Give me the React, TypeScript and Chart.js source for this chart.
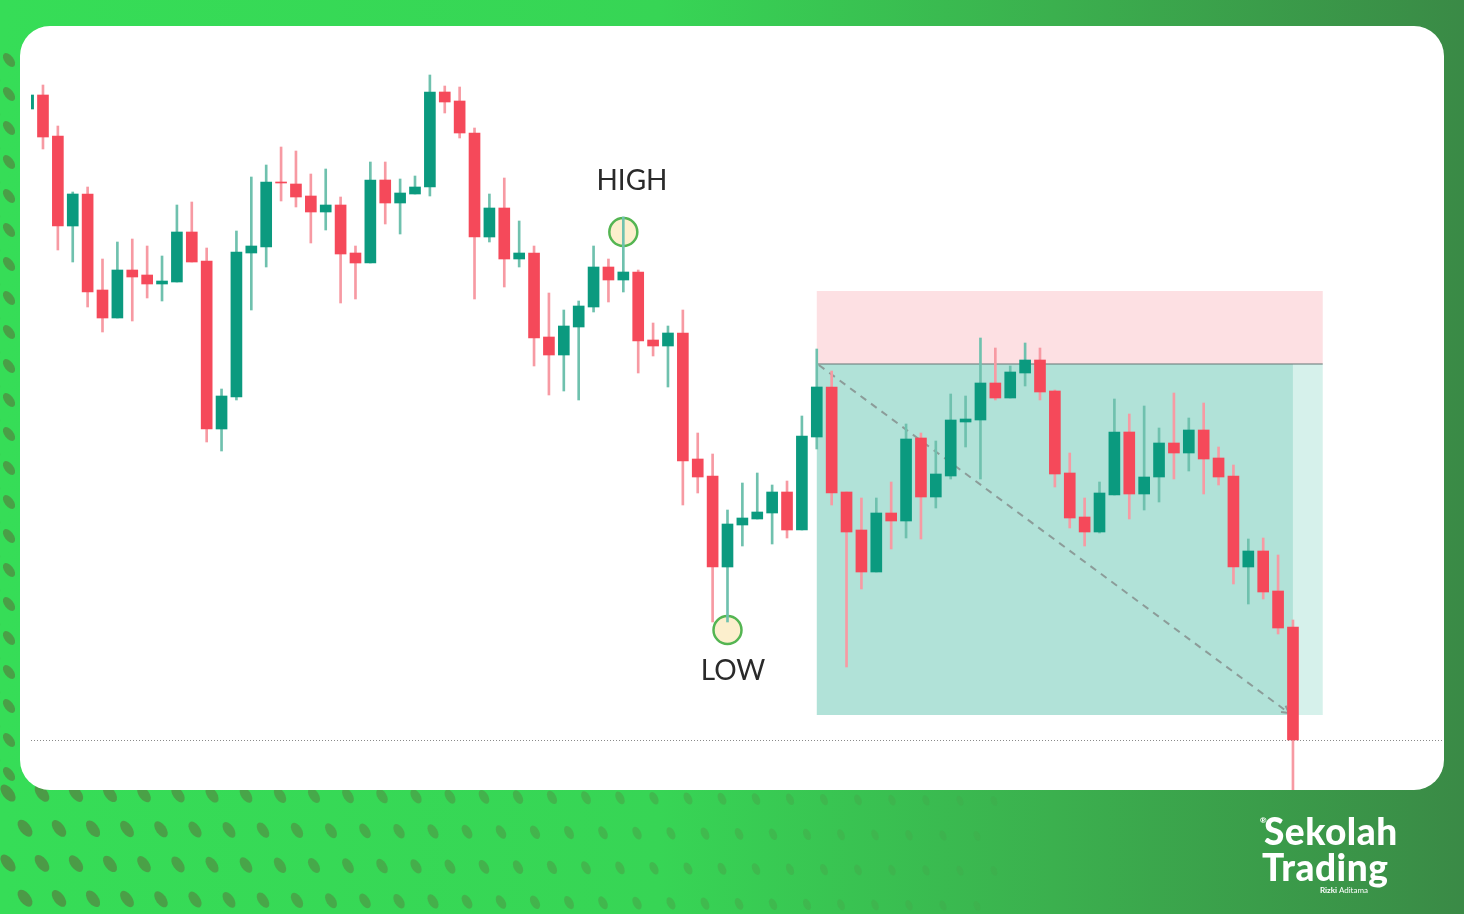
import React, { useEffect, useRef } from "react";
import { Chart, registerables } from "chart.js";
Chart.register(...registerables);

// OHLC candles (price units)
const opens = [1.0891, 1.0905, 1.0864, 1.0774, 1.0806, 1.0710, 1.0682, 1.0730, 1.0725, 1.0716,
  1.0718, 1.0768, 1.0739, 1.0571, 1.0603, 1.0747, 1.0753, 1.0818, 1.0816, 1.0804,
  1.0788, 1.0795, 1.0747, 1.0737, 1.0820, 1.0797, 1.0806, 1.0813, 1.0908, 1.0899,
  1.0867, 1.0763, 1.0792, 1.0741, 1.0747, 1.0663, 1.0645, 1.0673, 1.0693, 1.0733,
  1.0720, 1.0728, 1.0660, 1.0654, 1.0667, 1.0541, 1.0524, 1.0433, 1.0475, 1.0481,
  1.0487, 1.0508, 1.0470, 1.0563, 1.0613, 1.0508, 1.0470, 1.0428, 1.0487, 1.0479,
  1.0562, 1.0503, 1.0524, 1.0578, 1.0580, 1.0617, 1.0602, 1.0627, 1.0640, 1.0609,
  1.0527, 1.0483, 1.0468, 1.0505, 1.0568, 1.0506, 1.0523, 1.0557, 1.0547, 1.0570,
  1.0542, 1.0524, 1.0433, 1.0449, 1.0409, 1.0373];
const highs = [1.0906, 1.0915, 1.0874, 1.0808, 1.0813, 1.0741, 1.0758, 1.0761, 1.0754, 1.0744,
  1.0795, 1.0798, 1.0752, 1.0611, 1.0769, 1.0823, 1.0835, 1.0853, 1.0849, 1.0826,
  1.0831, 1.0803, 1.0754, 1.0838, 1.0838, 1.0821, 1.0824, 1.0925, 1.0914, 1.0913,
  1.0872, 1.0806, 1.0822, 1.0779, 1.0754, 1.0707, 1.0690, 1.0699, 1.0754, 1.0741,
  1.0783, 1.0730, 1.0677, 1.0674, 1.0690, 1.0567, 1.0546, 1.0490, 1.0517, 1.0527,
  1.0515, 1.0519, 1.0584, 1.0651, 1.0629, 1.0508, 1.0502, 1.0502, 1.0518, 1.0576,
  1.0567, 1.0559, 1.0606, 1.0604, 1.0662, 1.0652, 1.0634, 1.0657, 1.0652, 1.0610,
  1.0547, 1.0502, 1.0518, 1.0601, 1.0586, 1.0594, 1.0572, 1.0607, 1.0582, 1.0597,
  1.0553, 1.0535, 1.0461, 1.0462, 1.0445, 1.0380];
const lows = [1.0890, 1.0851, 1.0750, 1.0738, 1.0693, 1.0668, 1.0682, 1.0679, 1.0702, 1.0699,
  1.0718, 1.0738, 1.0558, 1.0549, 1.0600, 1.0690, 1.0733, 1.0799, 1.0793, 1.0757,
  1.0770, 1.0697, 1.0701, 1.0737, 1.0776, 1.0766, 1.0806, 1.0804, 1.0887, 1.0862,
  1.0701, 1.0758, 1.0713, 1.0733, 1.0634, 1.0605, 1.0609, 1.0600, 1.0688, 1.0698,
  1.0708, 1.0627, 1.0644, 1.0613, 1.0495, 1.0507, 1.0378, 1.0378, 1.0454, 1.0481,
  1.0456, 1.0462, 1.0470, 1.0551, 1.0495, 1.0333, 1.0411, 1.0428, 1.0451, 1.0462,
  1.0461, 1.0492, 1.0521, 1.0553, 1.0521, 1.0600, 1.0602, 1.0614, 1.0600, 1.0513,
  1.0472, 1.0454, 1.0467, 1.0505, 1.0481, 1.0490, 1.0498, 1.0521, 1.0529, 1.0506,
  1.0515, 1.0416, 1.0396, 1.0401, 1.0366, 1.0200];
const closes = [1.0905, 1.0863, 1.0774, 1.0806, 1.0708, 1.0682, 1.0730, 1.0723, 1.0716, 1.0719,
  1.0768, 1.0738, 1.0571, 1.0604, 1.0748, 1.0754, 1.0818, 1.0817, 1.0803, 1.0788,
  1.0795, 1.0746, 1.0737, 1.0820, 1.0797, 1.0807, 1.0813, 1.0908, 1.0898, 1.0867,
  1.0763, 1.0792, 1.0741, 1.0747, 1.0662, 1.0645, 1.0674, 1.0694, 1.0733, 1.0720,
  1.0728, 1.0659, 1.0654, 1.0667, 1.0539, 1.0523, 1.0433, 1.0476, 1.0482, 1.0488,
  1.0508, 1.0470, 1.0564, 1.0613, 1.0507, 1.0468, 1.0428, 1.0487, 1.0479, 1.0561,
  1.0503, 1.0526, 1.0580, 1.0581, 1.0617, 1.0602, 1.0628, 1.0640, 1.0608, 1.0526,
  1.0482, 1.0468, 1.0507, 1.0568, 1.0506, 1.0523, 1.0557, 1.0547, 1.0570, 1.0541,
  1.0523, 1.0433, 1.0449, 1.0408, 1.0372, 1.0260];

// Trade box (index/price units)
const zoneStart = 53;
const zoneDarkEnd = 85;
const zoneEnd = 87;
const stopPrice = 1.0709;
const entryPrice = 1.0636;
const targetPrice = 1.0285;
const lastPrice = 1.0260;

const marks = [
  { x: 40, y: 1.0768 },
  { x: 47, y: 1.0370 },
];
const markLabels = [
  { text: "HIGH", x: 40.58, y: 1.0819 },
  { text: "LOW", x: 47.37, y: 1.0329 },
];

const UP = "#0b9a7f";
const DOWN = "#f5495a";
const UP_WICK = "#6fc1ae";
const DOWN_WICK = "#f79aa3";

const overlayPlugin = {
  id: "tradeOverlay",
  beforeDatasetsDraw(chart: any) {
    const { ctx, chartArea } = chart;
    const xs = chart.scales.x;
    const ys = chart.scales.y;
    const x0 = xs.getPixelForValue(zoneStart);
    const xd = xs.getPixelForValue(zoneDarkEnd);
    const x1 = xs.getPixelForValue(zoneEnd);
    const yStop = ys.getPixelForValue(stopPrice);
    const yEntry = ys.getPixelForValue(entryPrice);
    const yTarget = ys.getPixelForValue(targetPrice);
    ctx.save();
    ctx.fillStyle = "#fde0e3";
    ctx.fillRect(x0, yStop, x1 - x0, yEntry - yStop);
    ctx.fillStyle = "#b1e2d8";
    ctx.fillRect(x0, yEntry, xd - x0, yTarget - yEntry);
    ctx.fillStyle = "#d6f1eb";
    ctx.fillRect(xd, yEntry, x1 - xd, yTarget - yEntry);
    ctx.strokeStyle = "rgba(110,125,125,0.55)";
    ctx.lineWidth = 2;
    ctx.beginPath();
    ctx.moveTo(x0, yEntry);
    ctx.lineTo(x1, yEntry);
    ctx.stroke();
    // dashed diagonal
    ctx.strokeStyle = "#8c9c99";
    ctx.lineWidth = 2;
    ctx.setLineDash([7, 6]);
    ctx.beginPath();
    ctx.moveTo(x0 + 2, yEntry + 1);
    ctx.lineTo(xd - 4, yTarget - 2);
    ctx.stroke();
    ctx.setLineDash([]);
    const ang = Math.atan2(yTarget - 2 - (yEntry + 1), xd - 4 - (x0 + 2));
    ctx.beginPath();
    ctx.moveTo(xd - 4, yTarget - 2);
    ctx.lineTo(xd - 4 - 8 * Math.cos(ang - 0.5), yTarget - 2 - 8 * Math.sin(ang - 0.5));
    ctx.moveTo(xd - 4, yTarget - 2);
    ctx.lineTo(xd - 4 - 8 * Math.cos(ang + 0.5), yTarget - 2 - 8 * Math.sin(ang + 0.5));
    ctx.stroke();
    // last price dotted line
    const yLast = ys.getPixelForValue(lastPrice);
    ctx.strokeStyle = "#8a8a8a";
    ctx.lineWidth = 1;
    ctx.setLineDash([1, 2]);
    ctx.beginPath();
    ctx.moveTo(chartArea.left, yLast + 0.5);
    ctx.lineTo(chartArea.right, yLast + 0.5);
    ctx.stroke();
    ctx.setLineDash([]);
    // circles
    for (const m of marks) {
      const cx = xs.getPixelForValue(m.x);
      const cy = ys.getPixelForValue(m.y);
      ctx.beginPath();
      ctx.arc(cx, cy, 14, 0, Math.PI * 2);
      ctx.fillStyle = "#fcefcd";
      ctx.fill();
      ctx.lineWidth = 2.5;
      ctx.strokeStyle = "#54b552";
      ctx.stroke();
    }
    ctx.restore();
  },
  afterDatasetsDraw(chart: any) {
    const { ctx } = chart;
    const xs = chart.scales.x;
    const ys = chart.scales.y;
    ctx.save();
    ctx.fillStyle = "#2a2a2a";
    ctx.font = "28px Lato, 'Open Sans', sans-serif";
    ctx.textAlign = "center";
    ctx.textBaseline = "middle";
    for (const l of markLabels) {
      ctx.fillText(l.text, xs.getPixelForValue(l.x), ys.getPixelForValue(l.y));
    }
    ctx.restore();
  },
};

function drawBackground(c: HTMLCanvasElement) {
  const ctx = c.getContext("2d");
  if (!ctx) return;
  const W = c.width, H = c.height;
  const g = ctx.createLinearGradient(0, 0, W, 0);
  g.addColorStop(0, "#36dd57");
  g.addColorStop(0.45, "#37d555");
  g.addColorStop(0.72, "#3bb04e");
  g.addColorStop(1, "#3a8a46");
  ctx.fillStyle = g;
  ctx.fillRect(0, 0, W, H);
  ctx.fillStyle = "#4d9846";
  // bottom rows of dots
  for (let r = 0; r < 5; r++) {
    const y = 793 + r * 35;
    for (let c2 = 0; c2 < 40; c2++) {
      const x = 8 + c2 * 34 + (r % 2) * 17;
      if (x > 1000) break;
      const t = x / 1000;
      ctx.globalAlpha = Math.max(0, 1 - t * 0.85);
      ctx.beginPath();
      ctx.ellipse(x, y + t * 8, 10 - 5 * t, 5.5 - 2.5 * t, 0.9 + t * 0.3, 0, Math.PI * 2);
      ctx.fill();
    }
  }
  // left column of dots
  for (let y = 60; y < 800; y += 34) {
    ctx.globalAlpha = 0.9;
    ctx.beginPath();
    ctx.ellipse(9, y, 8, 4.5, 0.9, 0, Math.PI * 2);
    ctx.fill();
    ctx.beginPath();
    ctx.ellipse(-6, y + 17, 8, 4.5, 0.9, 0, Math.PI * 2);
    ctx.fill();
  }
  ctx.globalAlpha = 1;
}

export default function App() {
  const chartRef = useRef<HTMLCanvasElement | null>(null);
  const bgRef = useRef<HTMLCanvasElement | null>(null);

  useEffect(() => {
    if (bgRef.current) drawBackground(bgRef.current);
    if (!chartRef.current) return;
    const idx = opens.map((_, i) => i);
    const bodies = idx.map((i) => ({ x: i, y: [opens[i], closes[i]] }));
    const wicks = idx.map((i) => ({ x: i, y: [lows[i], highs[i]] }));
    const bodyColors = idx.map((i) => (closes[i] >= opens[i] ? UP : DOWN));
    const wickColors = idx.map((i) => (closes[i] >= opens[i] ? UP_WICK : DOWN_WICK));
    const chart = new Chart(chartRef.current, {
      type: "bar",
      data: {
        datasets: [
          {
            label: "body",
            data: bodies as any,
            backgroundColor: bodyColors,
            barThickness: 11,
            grouped: false,
            borderWidth: 0,
            borderSkipped: false,
            clip: 0,
          } as any,
          {
            label: "wick",
            data: wicks as any,
            backgroundColor: wickColors,
            barThickness: 2,
            grouped: false,
            borderWidth: 0,
            borderSkipped: false,
            clip: 0,
          } as any,
        ],
      },
      options: {
        animation: false,
        responsive: false,
        maintainAspectRatio: false,
        layout: { padding: { left: 11, right: 0, top: 0, bottom: 0 } },
        plugins: { legend: { display: false }, tooltip: { enabled: false } },
        scales: {
          x: { type: "linear", offset: false, min: 0.195, max: 95.15, display: false },
          y: { type: "linear", min: 1.021, max: 1.0974, display: false },
        },
      },
      plugins: [overlayPlugin],
    });
    return () => chart.destroy();
  }, []);

  return (
    <div style={{ position: "absolute", left: 0, top: 0, width: 1464, height: 914, overflow: "hidden" }}>
      <canvas ref={bgRef} width={1464} height={914} style={{ position: "absolute", left: 0, top: 0 }} />
      <div
        style={{
          position: "absolute",
          left: 20,
          top: 26,
          width: 1424,
          height: 764,
          background: "#ffffff",
          borderRadius: 30,
          overflow: "hidden",
        }}
      >
        <canvas ref={chartRef} width={1424} height={764} style={{ position: "absolute", left: 0, top: 0 }} />
      </div>
      <div style={{ position: "absolute", left: 1262, top: 812, color: "#fff", fontFamily: "Lato, 'Open Sans', sans-serif", fontWeight: 900, lineHeight: 1 }}>
        <div style={{ position: "absolute", left: -2, top: 4, fontSize: 8 }}>®</div>
        <div style={{ position: "absolute", left: 2, top: 0, fontSize: 37, letterSpacing: 0.5, whiteSpace: "nowrap" }}>Sekolah</div>
        <div style={{ position: "absolute", left: 0, top: 36, fontSize: 37, letterSpacing: 0.5, whiteSpace: "nowrap" }}>Trading</div>
        <div style={{ position: "absolute", left: 58, top: 74, fontSize: 8, fontWeight: 400, whiteSpace: "nowrap" }}>
          <b>Rizki</b> Aditama
        </div>
      </div>
    </div>
  );
}
